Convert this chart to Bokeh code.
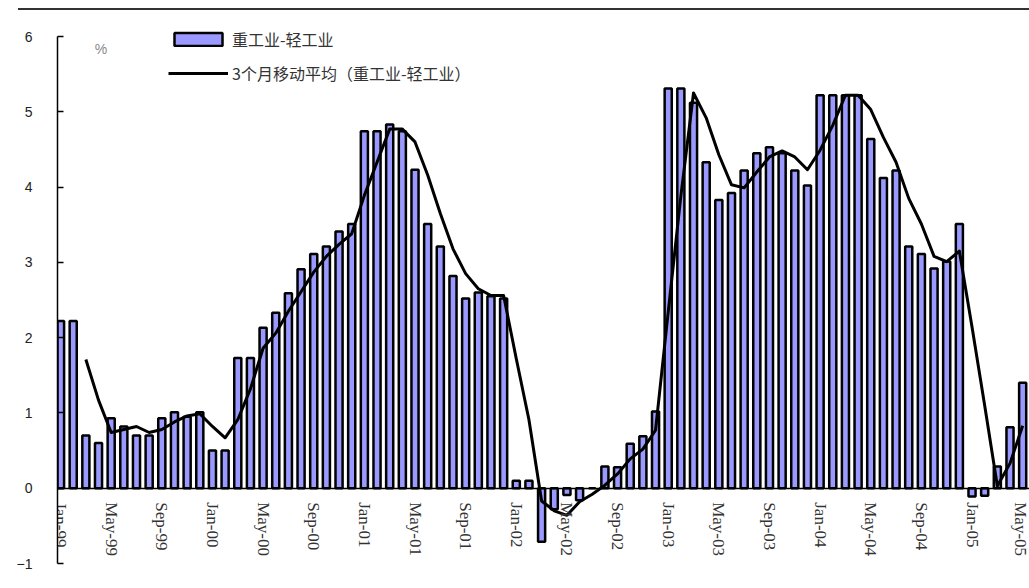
import math
from bokeh.plotting import figure
from bokeh.models import (ColumnDataSource, FixedTicker, Range1d, Legend,
                          LegendItem, Label, Div)
from bokeh.layouts import column
from bokeh.embed import file_html
from bokeh.resources import INLINE

# ---- data ----
# month index 0 = Jan-99 ... 76 = May-05
month_index = list(range(77))

# 重工业-轻工业 (percentage points)
diff_values = [
    2.22, 2.22, 0.70, 0.60, 0.93, 0.82, 0.70, 0.70, 0.93, 1.01, 0.95, 1.01,   # 1999
    0.50, 0.50, 1.73, 1.73, 2.13, 2.33, 2.59, 2.91, 3.11, 3.21, 3.41, 3.51,   # 2000
    4.74, 4.74, 4.83, 4.74, 4.23, 3.51, 3.21, 2.82, 2.52, 2.60, 2.55, 2.52,   # 2001
    0.10, 0.10, -0.71, -0.28, -0.09, -0.16, 0.00, 0.29, 0.28, 0.59, 0.69, 1.02,  # 2002
    5.31, 5.31, 5.12, 4.33, 3.83, 3.92, 4.22, 4.45, 4.53, 4.45, 4.22, 4.02,   # 2003
    5.22, 5.22, 5.22, 5.22, 4.64, 4.12, 4.22, 3.21, 3.11, 2.92, 3.01, 3.51,   # 2004
    -0.11, -0.10, 0.29, 0.81, 1.40,                                          # 2005
]

# 3个月移动平均 (starts at Mar-99, index 2)
ma_index = list(range(2, 77))
ma_values = [
    1.71, 1.17, 0.74, 0.78, 0.82, 0.74, 0.78, 0.88, 0.96, 0.99,
    0.82, 0.67, 0.91, 1.32, 1.86, 2.06, 2.35, 2.61, 2.87, 3.08, 3.24, 3.38,
    3.89, 4.33, 4.77, 4.77, 4.60, 4.16, 3.65, 3.18, 2.85, 2.65, 2.56, 2.56,
    1.72, 0.91, -0.17, -0.30, -0.36, -0.18, -0.08, 0.04, 0.19, 0.39, 0.52, 0.77,
    2.34, 3.88, 5.25, 4.92, 4.43, 4.03, 3.99, 4.20, 4.40, 4.48, 4.40, 4.23,
    4.49, 4.82, 5.22, 5.22, 5.03, 4.66, 4.33, 3.85, 3.51, 3.08, 3.01, 3.15,
    2.14, 1.10, 0.03, 0.33, 0.83,
]

tick_positions = list(range(0, 77, 4))
tick_labels = ["Jan-99", "May-99", "Sep-99", "Jan-00", "May-00", "Sep-00",
               "Jan-01", "May-01", "Sep-01", "Jan-02", "May-02", "Sep-02",
               "Jan-03", "May-03", "Sep-03", "Jan-04", "May-04", "Sep-04",
               "Jan-05", "May-05"]
y_ticks = [-1, 0, 1, 2, 3, 4, 5, 6]

series_bar_name = "重工业-轻工业"
series_line_name = "3个月移动平均（重工业-轻工业）"
unit_text = "%"

# ---- figure ----
p = figure(width=1029, height=578,
           x_range=Range1d(-0.24, 76.54), y_range=Range1d(-1, 6.319),
           output_backend="svg", toolbar_location=None,
           min_border_left=57, min_border_right=0,
           min_border_top=2, min_border_bottom=25)
p.outline_line_color = None
p.grid.visible = False
p.background_fill_color = "white"
p.border_fill_color = "white"

src = ColumnDataSource(data=dict(x=month_index, y=diff_values))
bars = p.vbar(x="x", top="y", bottom=0, width=0.56, source=src,
              fill_color="#9999FF", line_color="black", line_width=2.5)

ma_src = ColumnDataSource(data=dict(x=ma_index, y=ma_values))
ma_line = p.line(x="x", y="y", source=ma_src, line_color="black",
                 line_width=3, line_join="round")

# x axis crossing at zero
xa = p.xaxis[0]
xa.fixed_location = 0
xa.ticker = FixedTicker(ticks=tick_positions)
xa.major_label_overrides = {t: l for t, l in zip(tick_positions, tick_labels)}
xa.major_label_orientation = -math.pi / 2
xa.major_label_text_font = "Liberation Serif"
xa.major_label_text_font_size = "17px"
xa.major_label_text_color = "#333333"
xa.major_label_standoff = 14
xa.major_tick_in = 0
xa.major_tick_out = 0
xa.minor_tick_line_color = None
xa.axis_line_color = "black"
xa.axis_line_width = 1.5

ya = p.yaxis[0]
ya.ticker = FixedTicker(ticks=y_ticks)
ya.bounds = (-1, 6)
ya.major_tick_in = 6
ya.major_tick_out = 0
ya.major_tick_line_color = "black"
ya.major_tick_line_width = 1.5
ya.minor_tick_line_color = None
ya.axis_line_color = "black"
ya.axis_line_width = 1.5
ya.major_label_standoff = 25
ya.major_label_text_font = "Liberation Sans"
ya.major_label_text_font_size = "14px"
ya.major_label_text_color = "#222222"

p.add_layout(Label(x=3.2, y=5.83, text=unit_text, text_font="Liberation Sans",
                   text_font_size="14px", text_color="#888888",
                   text_align="center", text_baseline="middle"))

legend = Legend(items=[LegendItem(label=series_bar_name, renderers=[bars]),
                       LegendItem(label=series_line_name, renderers=[ma_line])],
                location=(111, 478), orientation="vertical",
                border_line_color=None, background_fill_alpha=0,
                padding=0, margin=0, spacing=10,
                glyph_width=60, glyph_height=16, label_height=20,
                label_standoff=4,
                label_text_font="Noto Sans CJK SC",
                label_text_font_size="16px", label_text_color="#333333")
p.add_layout(legend)

top_rule = Div(text="", width=1011, height=2, margin=(8, 0, 0, 18),
               styles={"background-color": "#333333"})

layout = column(top_rule, p, spacing=0)
open("out.html", "w").write(file_html(layout, INLINE))
